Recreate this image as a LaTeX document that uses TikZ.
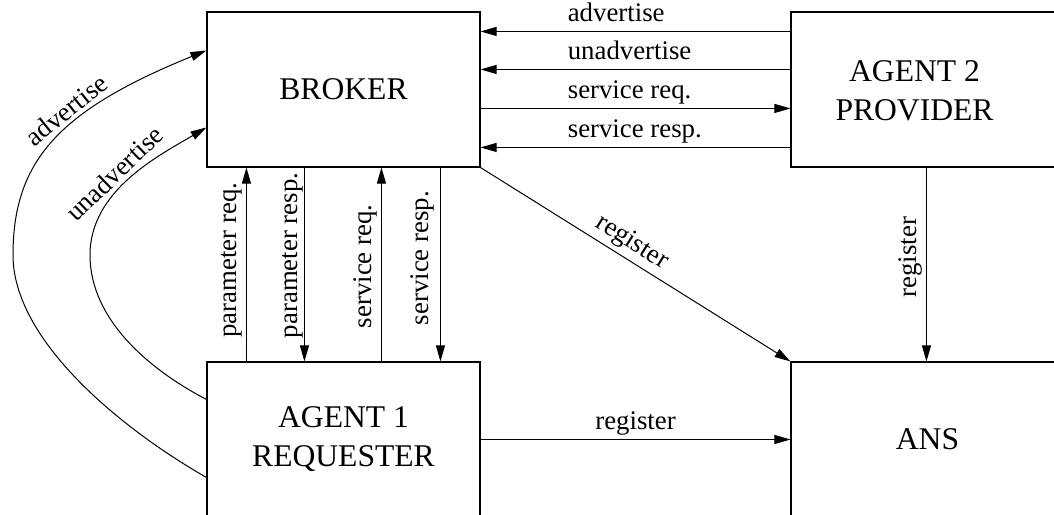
\documentclass[tikz,border=0pt]{standalone}
\usepackage{fontspec}
\setmainfont{Liberation Serif}
\usetikzlibrary{arrows.meta,calc}
\begin{document}
\begin{tikzpicture}[x=0.5pt,y=-0.5pt,
  box/.style={draw, line width=0.55pt, minimum width=136.5pt, minimum height=77.5pt,
    inner sep=0pt, align=center, font=\fontsize{15.8}{19.5}\selectfont},
  boxtext/.style={inner sep=0pt, align=center, font=\fontsize{15.8}{19.5}\selectfont},
  lbl/.style={font=\fontsize{13.4}{16}\selectfont, inner sep=2pt},
  toplbl/.style={lbl, inner sep=0pt, anchor=base west, yshift=5pt},
  uplbl/.style={lbl, rotate=90, anchor=south west},
  arr/.style={line width=0.5pt, -{Triangle[length=8pt,width=4.5pt]}}]

\useasboundingbox (0,0) rectangle (1054,514);
\clip (0,0) rectangle (1054,514);

% the four agents
\node[box] (broker) at (343.5,89.5) {BROKER};
\node[box] (agent2) at (927.5,89.5) {};
\node[boxtext] (agent2txt) at ($(agent2.center)+(-13,1.5)$) {AGENT 2\\PROVIDER};
\node[box] (agent1) at (343.5,439.5) {AGENT 1\\REQUESTER};
\node[box] (ans) at (927.5,439.5) {ANS};

% broker <-> provider
\draw[arr] ($(agent2.north west)+(0,20)$) -- ($(broker.north east)+(0,20)$)
  node[toplbl, pos=0.72] {advertise};
\draw[arr] ($(agent2.north west)+(0,58)$) -- ($(broker.north east)+(0,58)$)
  node[toplbl, pos=0.72] {unadvertise};
\draw[arr] ($(broker.north east)+(0,97)$) -- ($(agent2.north west)+(0,97)$)
  node[toplbl, pos=0.28] {service req.};
\draw[arr] ($(agent2.north west)+(0,136)$) -- ($(broker.north east)+(0,136)$)
  node[toplbl, pos=0.72] {service resp.};

% requester <-> broker
\draw[arr] ($(agent1.north west)+(40,0)$) -- ($(broker.south west)+(40,0)$)
  node[uplbl, pos=0.10] {parameter req.};
\draw[arr] ($(broker.south west)+(98,0)$) -- ($(agent1.north west)+(98,0)$)
  node[uplbl, pos=0.887, inner sep=0.5pt] {parameter resp.};
\draw[arr] ($(agent1.north west)+(175,0)$) -- ($(broker.south west)+(175,0)$)
  node[uplbl, pos=0.149] {service req.};
\draw[arr] ($(broker.south west)+(234,0)$) -- ($(agent1.north west)+(234,0)$)
  node[uplbl, pos=0.846, inner sep=3pt] {service resp.};

% registration with the name server
\draw[arr] (broker.south east) -- (ans.north west)
  node[lbl, pos=0.46, sloped, above] {register};
\draw[arr] ($(agent2.south west)+(136,0)$) -- ($(ans.north west)+(136,0)$)
  node[uplbl, pos=0.692] {register};
\draw[arr] (agent1.east) -- (ans.west)
  node[lbl, midway, above] {register};

% requester advertising at the broker
\draw[arr] ($(agent1.north west)+(0,116)$) .. controls (120,428) and (13,340) .. (13,255)
  .. controls (13,160) and (60,110) .. ($(broker.north west)+(0,39)$)
  node[lbl, pos=0.6, sloped, above] {advertise};
\draw[arr] ($(agent1.north west)+(0,38)$) .. controls (150,370) and (90,320) .. (90,255)
  .. controls (90,190) and (160,155) .. ($(broker.north west)+(0,116)$)
  node[lbl, pos=0.45, sloped, above] {unadvertise};
\end{tikzpicture}
\end{document}
